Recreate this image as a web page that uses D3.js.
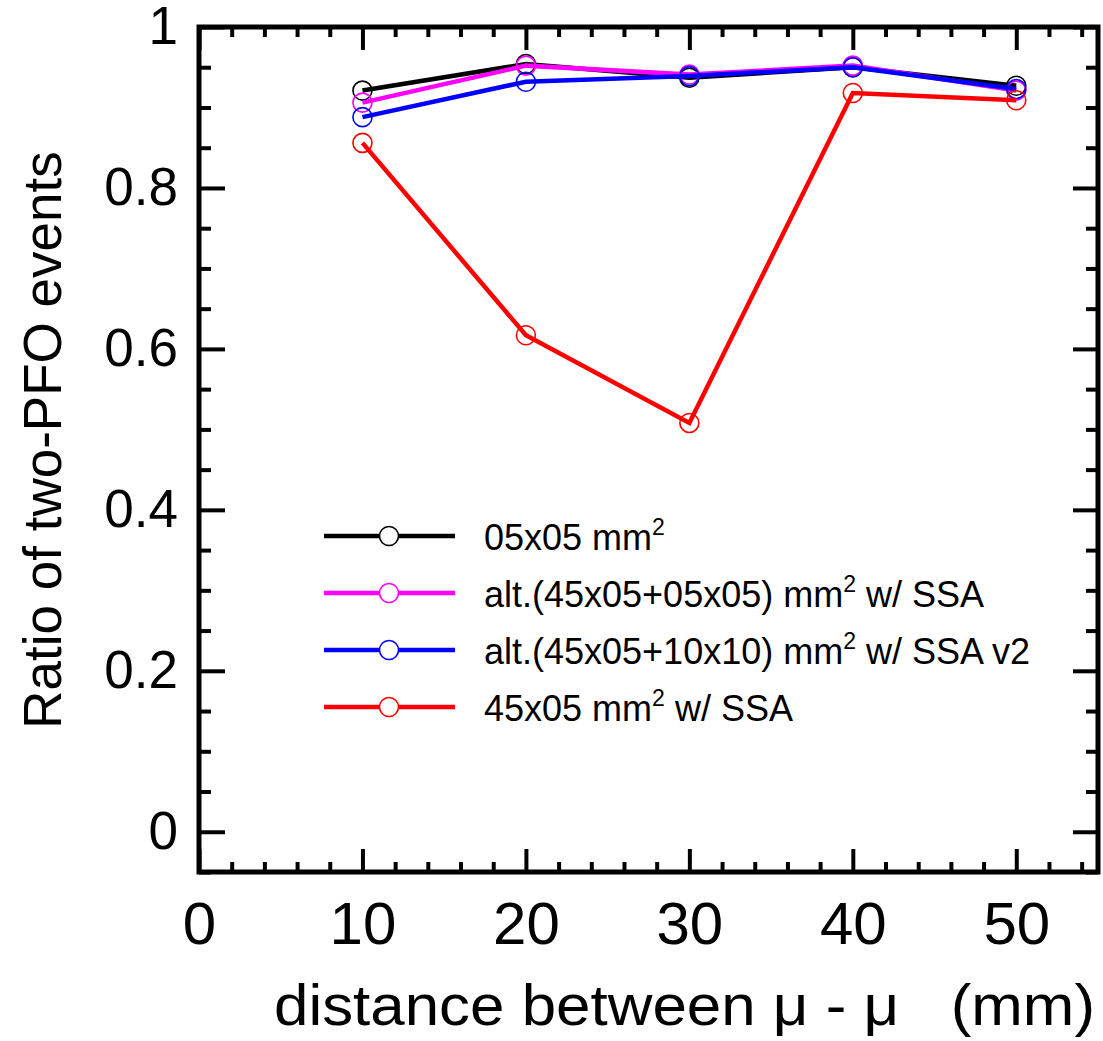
<!DOCTYPE html>
<html>
<head>
<meta charset="utf-8">
<script src="https://cdn.jsdelivr.net/npm/d3@7"></script>
<style>
  html, body { margin: 0; padding: 0; background: #fff; }
  svg { display: block; font-family: "Liberation Sans", Arial, Helvetica, sans-serif; }
</style>
</head>
<body>
<svg id="chart" width="1103" height="1041"></svg>
<script>
// Distance between the two muons (mm)
const distances = [10, 20, 30, 40, 50];

// Ratio of events reconstructed with two PFOs, per calorimeter cell layout
const ratio0505 = [0.921, 0.954, 0.937, 0.950, 0.927];
const ratioAlt0505 = [0.906, 0.952, 0.941, 0.952, 0.921];
const ratioAlt1010 = [0.888, 0.932, 0.939, 0.950, 0.923];
const ratio4505 = [0.856, 0.617, 0.508, 0.918, 0.909];

const seriesNames = [
  ["05x05 mm", "2", ""],
  ["alt.(45x05+05x05) mm", "2", " w/ SSA"],
  ["alt.(45x05+10x10) mm", "2", " w/ SSA v2"],
  ["45x05 mm", "2", " w/ SSA"]
];
const seriesColors = ["#000000", "#ff00ff", "#0000ff", "#ff0000"];
const seriesValues = [ratio0505, ratioAlt0505, ratioAlt1010, ratio4505];

const xMajorTicks = [0, 10, 20, 30, 40, 50];
const yMajorTicks = [0, 0.2, 0.4, 0.6, 0.8, 1];
const yTickLabels = ["0", "0.2", "0.4", "0.6", "0.8", "1"];

const svg = d3.select("#chart");
const plotLeft = 199, plotRight = 1098, plotTop = 27, plotBottom = 872;

const x = d3.scaleLinear().domain([0, 55]).range([plotLeft, plotRight]);
const y = d3.scaleLinear().domain([-0.05, 1]).range([plotBottom, plotTop]);

const xMinor = d3.range(0, 55.01, 2).filter(v => v % 10 !== 0);
const yMinor = d3.range(-0.05, 1.001, 0.05).map(v => +v.toFixed(2))
  .filter(v => Math.abs(v * 5 - Math.round(v * 5)) > 1e-6);

function styleAxis(g, fontSize) {
  g.select(".domain").remove();
  g.selectAll(".tick line").attr("stroke", "#000").attr("stroke-width", 4);
  g.selectAll(".tick text").attr("fill", "#000").attr("font-size", fontSize)
    .attr("font-family", "'Liberation Sans', Arial, sans-serif");
}

// Bottom axis
svg.append("g").attr("transform", `translate(0,${plotBottom})`)
  .call(d3.axisBottom(x).tickValues(xMajorTicks).tickSize(-23).tickPadding(29).tickFormat(d3.format("d")))
  .call(g => styleAxis(g, 60));
svg.append("g").attr("transform", `translate(0,${plotBottom})`)
  .call(d3.axisBottom(x).tickValues(xMinor).tickSize(-10).tickFormat(""))
  .call(g => styleAxis(g, 0));
// Top axis (mirrored ticks)
svg.append("g").attr("transform", `translate(0,${plotTop})`)
  .call(d3.axisTop(x).tickValues(xMajorTicks).tickSize(-23).tickFormat(""))
  .call(g => styleAxis(g, 0));
svg.append("g").attr("transform", `translate(0,${plotTop})`)
  .call(d3.axisTop(x).tickValues(xMinor).tickSize(-10).tickFormat(""))
  .call(g => styleAxis(g, 0));

// Left axis
svg.append("g").attr("transform", `translate(${plotLeft},0)`)
  .call(d3.axisLeft(y).tickValues(yMajorTicks).tickSize(-26).tickPadding(21)
    .tickFormat((d, i) => yTickLabels[i]))
  .call(g => styleAxis(g, 53));
svg.append("g").attr("transform", `translate(${plotLeft},0)`)
  .call(d3.axisLeft(y).tickValues(yMinor).tickSize(-12).tickFormat(""))
  .call(g => styleAxis(g, 0));
// Right axis (mirrored ticks)
svg.append("g").attr("transform", `translate(${plotRight},0)`)
  .call(d3.axisRight(y).tickValues(yMajorTicks).tickSize(-25).tickFormat(""))
  .call(g => styleAxis(g, 0));
svg.append("g").attr("transform", `translate(${plotRight},0)`)
  .call(d3.axisRight(y).tickValues(yMinor).tickSize(-12).tickFormat(""))
  .call(g => styleAxis(g, 0));

// Frame
svg.append("rect")
  .attr("x", plotLeft).attr("y", plotTop)
  .attr("width", plotRight - plotLeft).attr("height", plotBottom - plotTop)
  .attr("fill", "none").attr("stroke", "#000").attr("stroke-width", 5);

// Series lines and markers
const line = d3.line().x(d => x(d[0])).y(d => y(d[1]));
seriesValues.forEach((vals, i) => {
  const pts = distances.map((d, j) => [d, vals[j]]);
  svg.append("path").datum(pts)
    .attr("d", line).attr("fill", "none")
    .attr("stroke", seriesColors[i]).attr("stroke-width", 4.5)
    .attr("stroke-linejoin", "miter");
  svg.append("g").selectAll("circle").data(pts).join("circle")
    .attr("cx", d => x(d[0])).attr("cy", d => y(d[1])).attr("r", 9.5)
    .attr("fill", "none").attr("stroke", seriesColors[i]).attr("stroke-width", 1.6);
});

// Legend
const legendRows = [536, 593, 650, 707];
const legend = svg.append("g");
seriesNames.forEach((name, i) => {
  const ly = legendRows[i];
  legend.append("line").attr("x1", 324).attr("x2", 455).attr("y1", ly).attr("y2", ly)
    .attr("stroke", seriesColors[i]).attr("stroke-width", 4.5);
  legend.append("circle").attr("cx", 389).attr("cy", ly).attr("r", 9.5)
    .attr("fill", "#fff").attr("stroke", seriesColors[i]).attr("stroke-width", 1.6);
  const t = legend.append("text").attr("x", 484).attr("y", ly + 14)
    .attr("font-size", 36).attr("fill", "#000");
  t.append("tspan").text(name[0]);
  t.append("tspan").attr("dy", -15).attr("font-size", 23).text(name[1]);
  if (name[2]) t.append("tspan").attr("dy", 15).attr("font-size", 36).text(name[2]);
});

// Axis titles
svg.append("text")
  .attr("x", 274).attr("y", 1025)
  .attr("font-size", 58).attr("fill", "#000")
  .attr("textLength", 821).attr("lengthAdjust", "spacingAndGlyphs")
  .style("white-space", "pre")
  .text("distance between \u03bc - \u03bc   (mm)");

svg.append("text")
  .attr("transform", "translate(61,440) rotate(-90)")
  .attr("text-anchor", "middle")
  .attr("font-size", 53).attr("fill", "#000")
  .text("Ratio of two-PFO events");
</script>
</body>
</html>
